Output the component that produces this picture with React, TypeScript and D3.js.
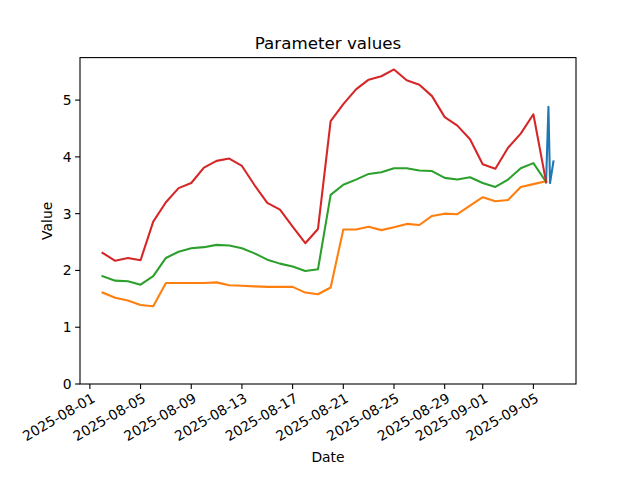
import React from "react";
import * as d3 from "d3";

const startDate = "2025-08-01T22:00:00Z";
const dayCount = 36;
const dates: Date[] = d3.utcDay.range(
  new Date(startDate),
  d3.utcDay.offset(new Date(startDate), dayCount)
);

const redValues = [2.31, 2.17, 2.22, 2.18, 2.86, 3.2, 3.45, 3.54, 3.81, 3.93, 3.97, 3.84, 3.5, 3.19, 3.07, 2.77, 2.48, 2.73, 4.63,
  4.93, 5.19, 5.36, 5.42, 5.54, 5.35, 5.27, 5.07, 4.7, 4.55, 4.31, 3.87, 3.79, 4.16, 4.41, 4.75, 3.56];
const greenValues = [1.9, 1.82, 1.81, 1.75, 1.9, 2.22, 2.33, 2.39, 2.41, 2.45, 2.44, 2.39, 2.3, 2.19, 2.12, 2.07, 1.99, 2.02, 3.33,
  3.51, 3.6, 3.7, 3.73, 3.8, 3.8, 3.76, 3.75, 3.63, 3.6, 3.64, 3.54, 3.47, 3.6, 3.8, 3.89, 3.56];
const orangeValues = [1.61, 1.52, 1.47, 1.39, 1.37, 1.78, 1.78, 1.78, 1.78, 1.79, 1.74, 1.73, 1.72, 1.71, 1.71, 1.71, 1.61, 1.58, 1.7,
  2.72, 2.72, 2.77, 2.71, 2.76, 2.82, 2.8, 2.96, 3.0, 2.99, 3.14, 3.29, 3.22, 3.24, 3.47, 3.52, 3.57];

const blueTimes = ["2025-09-06T00:00:00Z", "2025-09-06T04:30:00Z", "2025-09-06T07:30:00Z", "2025-09-06T14:00:00Z"];
const blueValues = [3.55, 4.88, 3.54, 3.92];

const xTickLabels = ["2025-08-01", "2025-08-05", "2025-08-09", "2025-08-13", "2025-08-17", "2025-08-21",
  "2025-08-25", "2025-08-29", "2025-09-01", "2025-09-05"];
const yTickValues = [0, 1, 2, 3, 4, 5];

const W = 640, H = 480;
const L = 80, R = 576, T = 57.6, B = 384;
const FONT = "DejaVu Sans, sans-serif";

type Pt = { t: Date; v: number };

export default function App() {
  const daily = (vals: number[]): Pt[] => vals.map((v, i) => ({ t: dates[i], v }));
  const blue: Pt[] = blueTimes.map((s, i) => ({ t: new Date(s), v: blueValues[i] }));
  const series = [
    { data: blue, color: "#1f77b4" },
    { data: daily(orangeValues), color: "#ff7f0e" },
    { data: daily(greenValues), color: "#2ca02c" },
    { data: daily(redValues), color: "#d62728" },
  ];
  const all = series.flatMap((s) => s.data);
  const [tmin, tmax] = d3.extent(all, (d) => +d.t) as [number, number];
  const tpad = (tmax - tmin) * 0.05;
  const [vmin, vmax] = d3.extent(all, (d) => d.v) as [number, number];
  const ymax = vmax + (vmax - vmin) * 0.05;

  const x = d3.scaleUtc().domain([new Date(tmin - tpad), new Date(tmax + tpad)]).range([L, R]);
  const y = d3.scaleLinear().domain([0, ymax]).range([B, T]);
  const line = d3.line<Pt>().x((d) => x(d.t)).y((d) => y(d.v));

  return (
    <svg width={W} height={H} style={{ position: "absolute", left: 0, top: 0, background: "#fff" }} fontFamily={FONT}>
      <rect x={0} y={0} width={W} height={H} fill="#fff" />
      <g>
        {series.map((s, i) => (
          <path key={i} d={line(s.data) || ""} fill="none" stroke={s.color} strokeWidth={2.08}
            strokeLinejoin="round" strokeLinecap="square" />
        ))}
      </g>
      <rect x={L} y={T} width={R - L} height={B - T} fill="none" stroke="#000" strokeWidth={1.1} />
      {yTickValues.map((v) => (
        <g key={v}>
          <line x1={L} x2={L - 4.9} y1={y(v)} y2={y(v)} stroke="#000" strokeWidth={1.1} />
          <text x={L - 8.5} y={y(v)} textAnchor="end" dominantBaseline="central" fontSize={13.9} fill="#000">{v}</text>
        </g>
      ))}
      {xTickLabels.map((s) => {
        const tx = x(new Date(s + "T00:00:00Z"));
        return (
          <g key={s}>
            <line x1={tx} x2={tx} y1={B} y2={B + 4.9} stroke="#000" strokeWidth={1.1} />
            <text transform={`translate(${tx + 1},${B + 8}) rotate(-30)`} textAnchor="end" dominantBaseline="hanging"
              fontSize={13.9} fill="#000">{s}</text>
          </g>
        );
      })}
      <text x={(L + R) / 2} y={49} textAnchor="middle" fontSize={16.7} fill="#000">Parameter values</text>
      <text x={(L + R) / 2} y={462} textAnchor="middle" fontSize={13.9} fill="#000">Date</text>
      <text transform={`translate(52,${(T + B) / 2}) rotate(-90)`} textAnchor="middle" fontSize={13.9} fill="#000">Value</text>
    </svg>
  );
}
